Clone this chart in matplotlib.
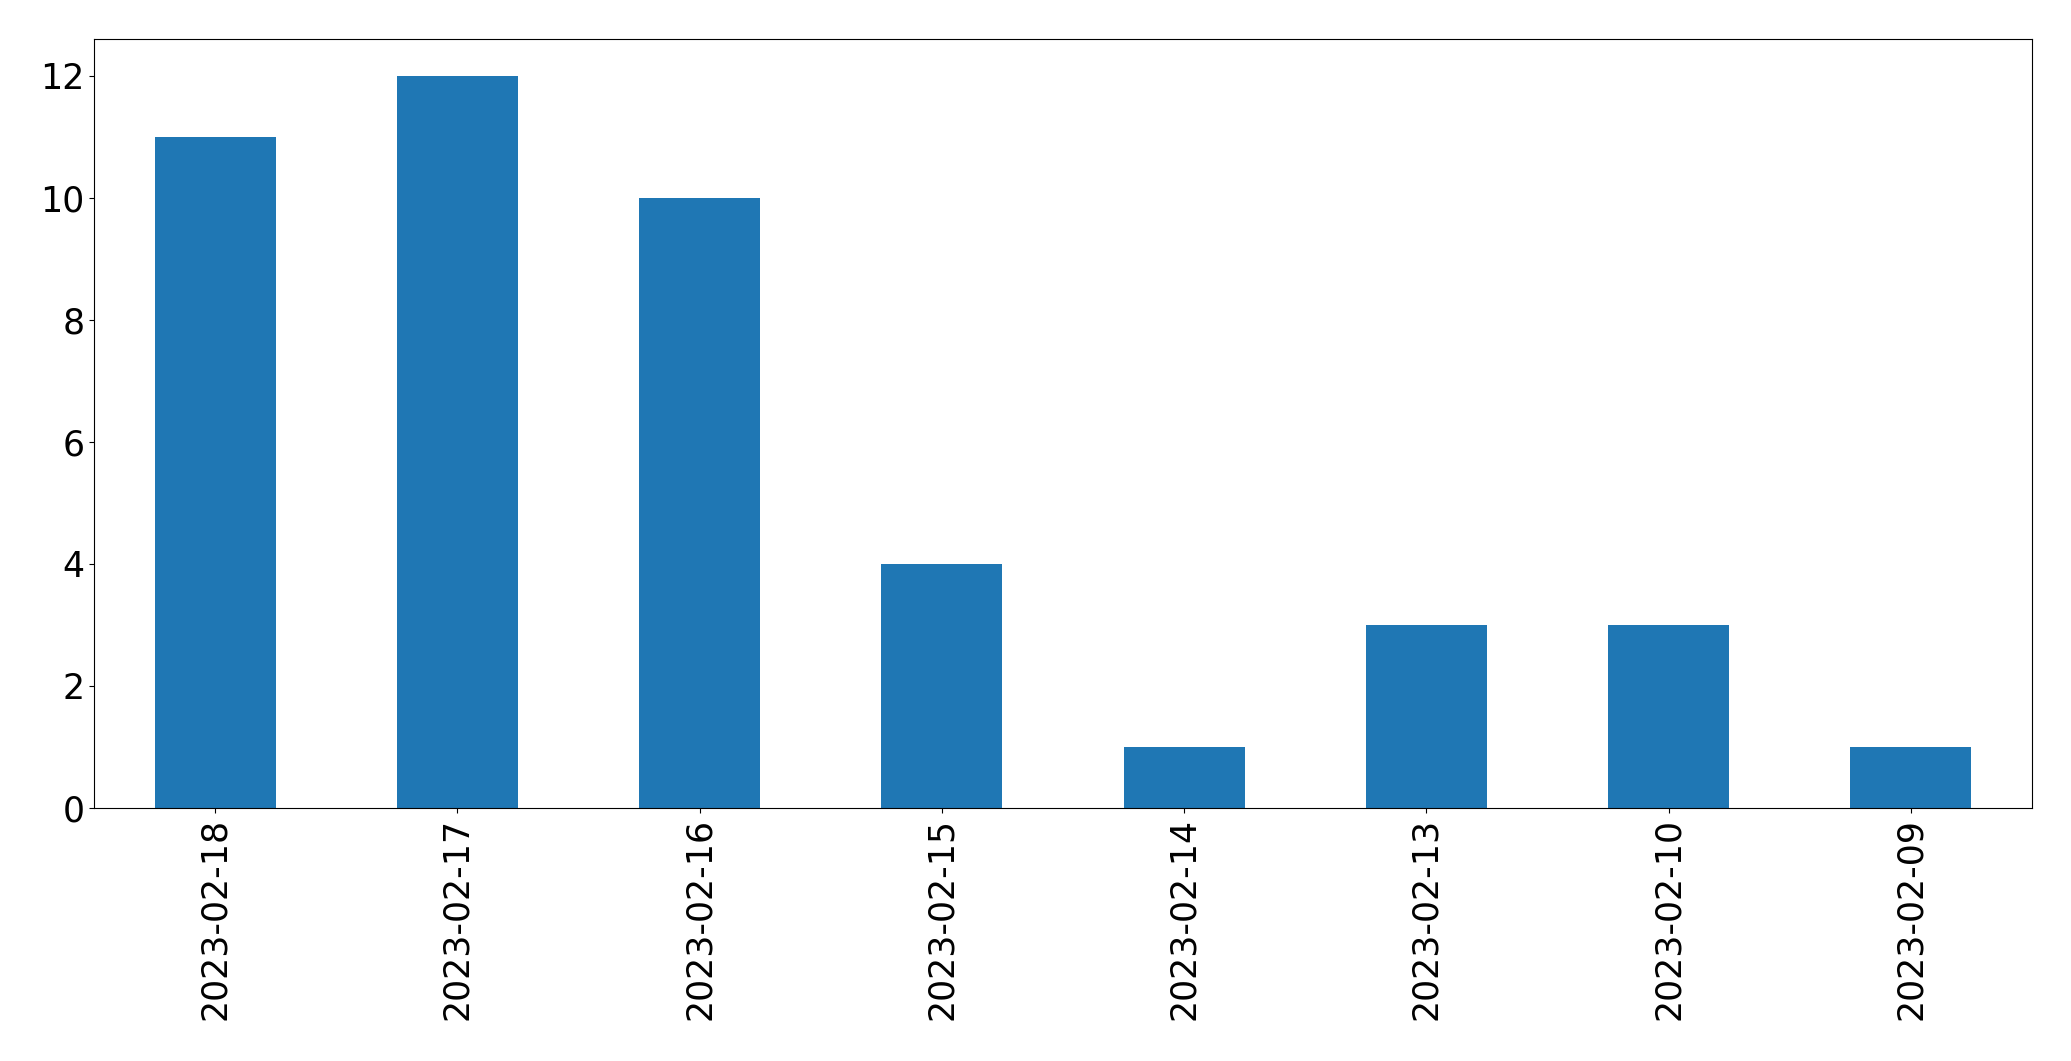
import pandas as pd
import matplotlib
matplotlib.use("Agg")
import matplotlib.pyplot as plt

dates = ["2023-02-18", "2023-02-17", "2023-02-16", "2023-02-15",
         "2023-02-14", "2023-02-13", "2023-02-10", "2023-02-09"]
counts = [11, 12, 10, 4, 1, 3, 3, 1]

s = pd.Series(counts, index=dates)

fig = plt.figure(figsize=(20.71, 10.61), dpi=100)
ax = fig.add_axes([94 / 2071, 1 - 808 / 1061, (2032 - 94) / 2071, (808 - 39) / 1061])
s.plot(kind="bar", ax=ax, color="#1f77b4")
ax.tick_params(labelsize=25)

fig.savefig("out.png", dpi=100)
